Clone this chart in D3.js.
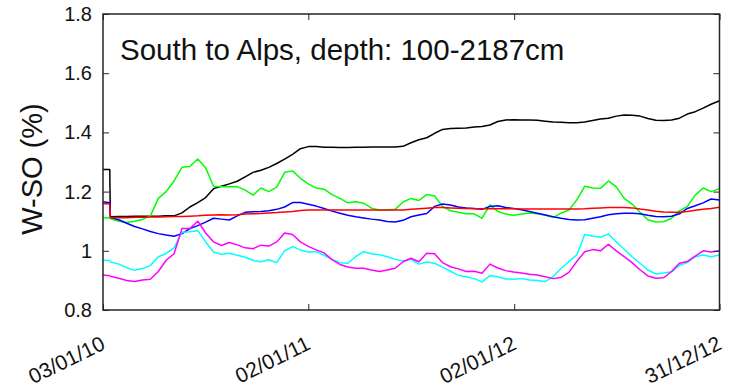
<!DOCTYPE html>
<html>
<head>
<meta charset="utf-8">
<script src="https://cdn.jsdelivr.net/npm/d3@7"></script>
<style>
  html, body { margin: 0; padding: 0; background: #fff; }
  svg { display: block; font-family: "Liberation Sans", Arial, sans-serif; }
</style>
</head>
<body>
<svg id="chart" width="734" height="391"></svg>
<script>
// Sampling dates (roughly fortnightly), shared by all series
const dates = [
  "2010-01-03","2010-01-15","2010-01-16","2010-01-17","2010-01-31","2010-02-14","2010-02-28","2010-03-14","2010-03-28",
  "2010-04-11","2010-04-25","2010-05-09","2010-05-23","2010-06-06","2010-06-20","2010-07-04","2010-07-18",
  "2010-08-01","2010-08-15","2010-08-29","2010-09-12","2010-09-26","2010-10-10","2010-10-24","2010-11-07",
  "2010-11-21","2010-12-05","2010-12-19",
  "2011-01-02","2011-01-16","2011-01-30","2011-02-13","2011-02-27","2011-03-13","2011-03-27","2011-04-10",
  "2011-04-24","2011-05-08","2011-05-22","2011-06-05","2011-06-19","2011-07-03","2011-07-17","2011-07-31",
  "2011-08-14","2011-08-28","2011-09-11","2011-09-25","2011-10-09","2011-10-23","2011-11-06","2011-11-20",
  "2011-12-04","2011-12-18",
  "2012-01-01","2012-01-15","2012-01-29","2012-02-12","2012-02-26","2012-03-11","2012-03-25","2012-04-08",
  "2012-04-22","2012-05-06","2012-05-20","2012-06-03","2012-06-17","2012-07-01","2012-07-15","2012-07-29",
  "2012-08-12","2012-08-26","2012-09-09","2012-09-23","2012-10-07","2012-10-21","2012-11-04","2012-11-18",
  "2012-12-02","2012-12-16","2012-12-31"
];

const blackSeries = [
  1.275,1.275,1.113,
  1.115,1.116,1.116,1.117,1.117,1.117,1.117,1.118,1.118,
  1.128,1.148,1.163,1.18,1.21,1.218,1.226,1.235,1.25,1.265,1.272,1.282,1.295,1.31,1.326,1.345,1.352,
  1.352,1.35,1.35,1.349,1.349,1.35,1.35,1.351,1.351,1.351,1.351,1.353,1.365,1.375,1.382,1.397,1.41,1.413,1.414,1.415,1.418,1.42,1.425,1.437,1.442,1.443,
  1.442,1.442,1.441,1.438,1.435,1.434,1.433,1.433,1.435,1.44,1.445,1.448,1.455,1.459,1.458,1.455,1.447,1.441,1.44,1.442,1.448,1.462,1.47,1.482,1.495,1.507
];

const greenSeries = [
  1.112,1.111,1.11,
  1.108,1.1,1.096,1.1,1.106,1.118,1.177,1.2,1.236,1.282,1.285,1.31,1.28,1.218,1.216,1.216,1.217,1.205,1.188,1.212,1.2,1.215,1.265,1.27,1.245,1.226,
  1.212,1.208,1.19,1.177,1.162,1.166,1.161,1.144,1.138,1.138,1.14,1.165,1.177,1.17,1.19,1.185,1.15,1.135,1.13,1.125,1.125,1.11,1.155,1.133,1.124,1.12,
  1.124,1.128,1.125,1.121,1.113,1.127,1.138,1.172,1.218,1.212,1.211,1.236,1.216,1.177,1.158,1.13,1.105,1.097,1.098,1.11,1.135,1.15,1.188,1.212,1.2,1.21
];

const redSeries = [
  1.16,1.158,1.112,
  1.112,1.112,1.112,1.113,1.113,1.114,1.114,1.115,1.116,1.116,1.117,1.118,1.12,1.121,1.122,1.121,1.122,1.124,1.125,1.126,1.128,1.129,1.131,1.133,1.136,1.138,
  1.138,1.138,1.138,1.138,1.138,1.138,1.138,1.138,1.138,1.138,1.138,1.138,1.14,1.142,1.144,1.146,1.146,1.145,1.144,1.143,1.142,1.142,1.142,1.142,1.142,1.142,
  1.141,1.141,1.141,1.141,1.141,1.141,1.141,1.141,1.142,1.144,1.145,1.146,1.146,1.146,1.145,1.141,1.138,1.134,1.131,1.13,1.13,1.133,1.137,1.14,1.143,1.147
];

const blueSeries = [
  1.166,1.162,1.118,
  1.112,1.105,1.093,1.082,1.074,1.065,1.058,1.053,1.049,1.058,1.075,1.085,1.097,1.11,1.107,1.104,1.118,1.13,1.132,1.133,1.135,1.14,1.148,1.163,1.163,1.157,
  1.151,1.143,1.134,1.127,1.12,1.115,1.111,1.107,1.104,1.099,1.097,1.103,1.115,1.121,1.126,1.15,1.158,1.155,1.148,1.145,1.143,1.14,1.15,1.152,1.146,1.143,
  1.139,1.133,1.127,1.121,1.115,1.11,1.106,1.104,1.105,1.11,1.115,1.122,1.125,1.127,1.127,1.125,1.12,1.116,1.115,1.117,1.125,1.143,1.152,1.162,1.175,1.172
];

const cyanSeries = [
  0.969,0.966,0.965,
  0.962,0.955,0.943,0.934,0.94,0.95,0.98,0.991,1.01,1.063,1.064,1.068,1.03,0.996,0.988,0.992,0.985,0.978,0.968,0.963,0.97,0.96,1.0,1.014,1.003,0.996,
  0.997,0.985,0.971,0.96,0.958,0.98,0.997,0.99,0.987,0.98,0.971,0.966,0.971,0.955,0.962,0.958,0.945,0.931,0.917,0.912,0.906,0.895,0.916,0.912,0.905,0.904,
  0.906,0.901,0.9,0.896,0.913,0.94,0.964,0.986,1.055,1.05,1.046,1.057,1.03,1.005,0.98,0.958,0.935,0.922,0.925,0.929,0.951,0.96,0.98,0.986,0.98,0.986
];

const magentaSeries = [
  0.918,0.916,0.915,
  0.913,0.907,0.9,0.896,0.901,0.904,0.93,0.968,0.99,1.075,1.075,1.1,1.06,1.03,1.018,1.028,1.02,1.01,1.007,1.019,1.016,1.03,1.06,1.055,1.03,1.015,
  1.003,0.993,0.97,0.954,0.945,0.941,0.941,0.935,0.93,0.935,0.941,0.963,0.975,0.963,0.992,0.99,0.96,0.946,0.939,0.93,0.931,0.924,0.955,0.942,0.933,0.928,
  0.925,0.921,0.918,0.912,0.906,0.91,0.927,0.964,0.997,1.004,1.0,1.022,1.0,0.98,0.96,0.936,0.915,0.907,0.909,0.93,0.958,0.964,0.982,1.0,0.996,1.0
];

const xTickDates = ["2010-01-03","2011-01-02","2012-01-02","2012-12-31"];
const yTickValues = [0.8, 1.0, 1.2, 1.4, 1.6, 1.8];

const titleText = "South to Alps, depth: 100-2187cm";
const yLabelText = "W-SO (%)";

const seriesList = [
  { name: "black",   values: blackSeries,   color: "#000000" },
  { name: "green",   values: greenSeries,   color: "#00ff00" },
  { name: "blue",    values: blueSeries,    color: "#0000ff" },
  { name: "red",     values: redSeries,     color: "#ff0000" },
  { name: "cyan",    values: cyanSeries,    color: "#00ffff" },
  { name: "magenta", values: magentaSeries, color: "#ff00ff" }
];

const parse = d3.utcParse("%Y-%m-%d");
const dateObjs = dates.map(parse);

const plot = { left: 103, right: 719.5, top: 14, bottom: 310 };

const x = d3.scaleUtc()
  .domain([parse("2010-01-03"), parse("2012-12-31")])
  .range([plot.left, plot.right]);

const y = d3.scaleLinear()
  .domain([0.8, 1.8])
  .range([plot.bottom, plot.top]);

const svg = d3.select("#chart");

// data lines
const line = d3.line()
  .x((d, i) => x(dateObjs[i]))
  .y(d => y(d));

svg.append("g")
  .selectAll("path")
  .data(seriesList)
  .join("path")
  .attr("fill", "none")
  .attr("stroke", d => d.color)
  .attr("stroke-width", 1.5)
  .attr("stroke-linejoin", "round")
  .attr("d", d => line(d.values));

// axes with inward ticks
const fmtDate = d3.utcFormat("%d/%m/%y");
const xTicks = xTickDates.map(parse);
const tickLen = 6;
const axisColor = "#262626";

const yAxis = d3.axisLeft(y)
  .tickValues(yTickValues)
  .tickSize(-tickLen)
  .tickPadding(11)
  .tickFormat(d => d3.format("~g")(d));

const gy = svg.append("g")
  .attr("transform", `translate(${plot.left},0)`)
  .call(yAxis);
gy.select(".domain").remove();
gy.selectAll(".tick line").attr("stroke", axisColor);
gy.selectAll(".tick text")
  .attr("font-size", 20)
  .attr("fill", "#111")
  .attr("font-family", "Liberation Sans, Arial, sans-serif");

const gyR = svg.append("g")
  .attr("transform", `translate(${plot.right},0)`)
  .call(d3.axisRight(y).tickValues(yTickValues).tickSize(-tickLen).tickFormat(""));
gyR.select(".domain").remove();
gyR.selectAll(".tick line").attr("stroke", axisColor);

const xAxis = d3.axisBottom(x)
  .tickValues(xTicks)
  .tickSize(-tickLen)
  .tickFormat(fmtDate);

const gx = svg.append("g")
  .attr("transform", `translate(0,${plot.bottom})`)
  .call(xAxis);
gx.select(".domain").remove();
gx.selectAll(".tick line").attr("stroke", axisColor);
gx.selectAll(".tick text")
  .attr("font-size", 21)
  .attr("fill", "#111")
  .attr("font-family", "Liberation Sans, Arial, sans-serif")
  .attr("text-anchor", "end")
  .attr("dy", null)
  .attr("y", null)
  .attr("transform", "translate(3,38.5) rotate(-26)");

const gxT = svg.append("g")
  .attr("transform", `translate(0,${plot.top})`)
  .call(d3.axisTop(x).tickValues(xTicks).tickSize(-tickLen).tickFormat(""));
gxT.select(".domain").remove();
gxT.selectAll(".tick line").attr("stroke", axisColor);

// frame
svg.append("rect")
  .attr("x", plot.left)
  .attr("y", plot.top)
  .attr("width", plot.right - plot.left)
  .attr("height", plot.bottom - plot.top)
  .attr("fill", "none")
  .attr("stroke", axisColor)
  .attr("stroke-width", 1.5);

// title inside the box
svg.append("text")
  .attr("x", 120)
  .attr("y", 60)
  .attr("font-size", 29.5)
  .attr("fill", "#111")
  .text(titleText);

// y-axis label
svg.append("text")
  .attr("transform", "translate(42,169) rotate(-90)")
  .attr("text-anchor", "middle")
  .attr("font-size", 29)
  .attr("fill", "#111")
  .text(yLabelText);
</script>
</body>
</html>
